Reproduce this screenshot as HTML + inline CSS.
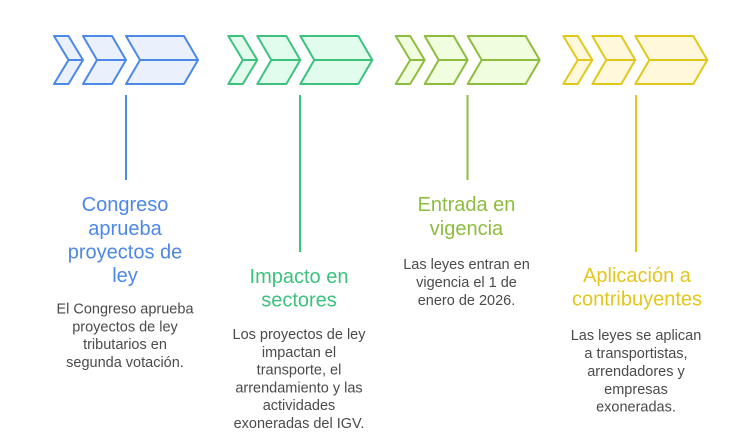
<!DOCTYPE html>
<html><head><meta charset="utf-8"><style>
html,body{margin:0;padding:0;background:#fff;}
svg{display:block;}
.t{font-family:"Liberation Sans",Arial,sans-serif;font-size:20px;text-anchor:middle;}
.d{font-family:"Liberation Sans",Arial,sans-serif;font-size:14.5px;text-anchor:middle;fill:#4a4a4a;}
</style></head><body>
<svg width="744" height="445" viewBox="0 0 744 445" xmlns="http://www.w3.org/2000/svg">
<defs>
<g id="chev">
  <polygon points="0,36 14.5,36 29,60 14.5,84 0,84 14.5,60"/>
  <line x1="14.5" y1="60" x2="29" y2="60"/>
  <polygon points="29,36 58,36 72,60 58,84 29,84 43,60"/>
  <line x1="43" y1="60" x2="72" y2="60"/>
  <polygon points="72,36 130,36 144,60 130,84 72,84 86,60"/>
  <line x1="86" y1="60" x2="144" y2="60"/>
</g>
</defs>
<g stroke-width="2" stroke-linejoin="round">
<use href="#chev" transform="translate(54,0)" fill="#eaf1fd" stroke="#4d88e6"/>
<use href="#chev" transform="translate(228.3,0)" fill="#e1fbed" stroke="#3dc27e"/>
<use href="#chev" transform="translate(395.7,0)" fill="#f1fddf" stroke="#8dbd3e"/>
<use href="#chev" transform="translate(563.3,0)" fill="#fff8da" stroke="#e2c71c"/>
</g>
<line x1="126" y1="95" x2="126" y2="180" stroke="#4d88e6" stroke-width="2"/>
<line x1="300" y1="95" x2="300" y2="252" stroke="#3dc27e" stroke-width="2"/>
<line x1="467.5" y1="95" x2="467.5" y2="180" stroke="#8dbd3e" stroke-width="2"/>
<line x1="636" y1="95" x2="636" y2="252" stroke="#e2c71c" stroke-width="2"/>

<g class="t" fill="#4d88e6">
<text x="125" y="211">Congreso</text>
<text x="125" y="235">aprueba</text>
<text x="125" y="258.5">proyectos de</text>
<text x="125" y="282">ley</text>
</g>
<g class="d">
<text x="125" y="313.5">El Congreso aprueba</text>
<text x="125" y="331.3">proyectos de ley</text>
<text x="125" y="349.1">tributarios en</text>
<text x="125" y="366.9">segunda votación.</text>
</g>

<g class="t" fill="#3dc27e">
<text x="299" y="283">Impacto en</text>
<text x="299" y="306.7">sectores</text>
</g>
<g class="d">
<text x="299" y="339">Los proyectos de ley</text>
<text x="299" y="356.8">impactan el</text>
<text x="299" y="374.6">transporte, el</text>
<text x="299" y="392.4">arrendamiento y las</text>
<text x="299" y="410.2">actividades</text>
<text x="299" y="428">exoneradas del IGV.</text>
</g>

<g class="t" fill="#8dbd3e">
<text x="466.5" y="211">Entrada en</text>
<text x="466.5" y="235">vigencia</text>
</g>
<g class="d">
<text x="466.5" y="269">Las leyes entran en</text>
<text x="466.5" y="287">vigencia el 1 de</text>
<text x="466.5" y="305">enero de 2026.</text>
</g>

<g class="t" fill="#e2c71c">
<text x="637" y="282">Aplicación a</text>
<text x="637" y="305.5">contribuyentes</text>
</g>
<g class="d">
<text x="636" y="340">Las leyes se aplican</text>
<text x="636" y="358">a transportistas,</text>
<text x="636" y="376">arrendadores y</text>
<text x="636" y="393.8">empresas</text>
<text x="636" y="411.6">exoneradas.</text>
</g>
</svg>
</body></html>
